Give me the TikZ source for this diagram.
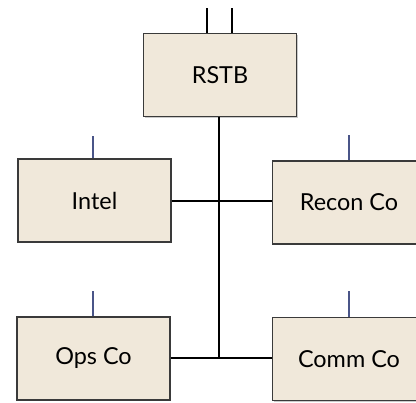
\documentclass[tikz,border=0pt]{standalone}
\usepackage{fontspec}
\setmainfont{Lato}
\usetikzlibrary{shadows}
\definecolor{boxfill}{HTML}{F0E8DA}
\definecolor{boxline}{HTML}{3A3A3A}
\definecolor{tickblue}{HTML}{4A5588}
\tikzset{
  unit/.style={draw=boxline, line width=1.4bp, fill=boxfill, rectangle,
    minimum width=153bp, minimum height=83bp, inner sep=0pt,
    font=\fontsize{23.5}{28}\selectfont,
    drop shadow={shadow xshift=1.2bp, shadow yshift=-1.2bp, opacity=0.35, fill=black!60}},
  link/.style={draw=black, line width=2.6bp},
  tick/.style={draw=tickblue, line width=2bp}
}
\begin{document}
\begin{tikzpicture}[x=1bp, y=-1bp]
\useasboundingbox (0,0) rectangle (416,403);
\node[unit] (rstb) at (220,75) {RSTB};
\node[unit] (intel) at (94.5,200.5) {Intel};
\node[unit] (recon) at (349,202.5) {Recon Co};
\node[unit] (ops) at (93.5,358.5) {Ops Co};
\node[unit] (comm) at (349,359) {Comm Co};
% top links of RSTB
\coordinate (ta) at (207,8);
\coordinate (tb) at (232,8);
\draw[link] (ta) -- (ta |- rstb.north);
\draw[link] (tb) -- (tb |- rstb.north);
% trunk
\coordinate (trunkA) at (219,201);
\coordinate (trunkB) at (219,358);
\draw[link] (rstb.south -| trunkA) -- (trunkB);
\draw[link] (intel.east |- trunkA) -- (trunkA);
\draw[link] (trunkA) -- (recon.west |- trunkA);
\draw[link] (ops.east |- trunkB) -- (trunkB);
\draw[link] (trunkB) -- (comm.west |- trunkB);
% small ticks above boxes
\coordinate (ti) at (93,136);
\coordinate (tr) at (349,135);
\coordinate (to) at (93,291);
\coordinate (tc) at (349,291);
\draw[tick] (ti) -- (ti |- intel.north);
\draw[tick] (tr) -- (tr |- recon.north);
\draw[tick] (to) -- (to |- ops.north);
\draw[tick] (tc) -- (tc |- comm.north);
\end{tikzpicture}
\end{document}
